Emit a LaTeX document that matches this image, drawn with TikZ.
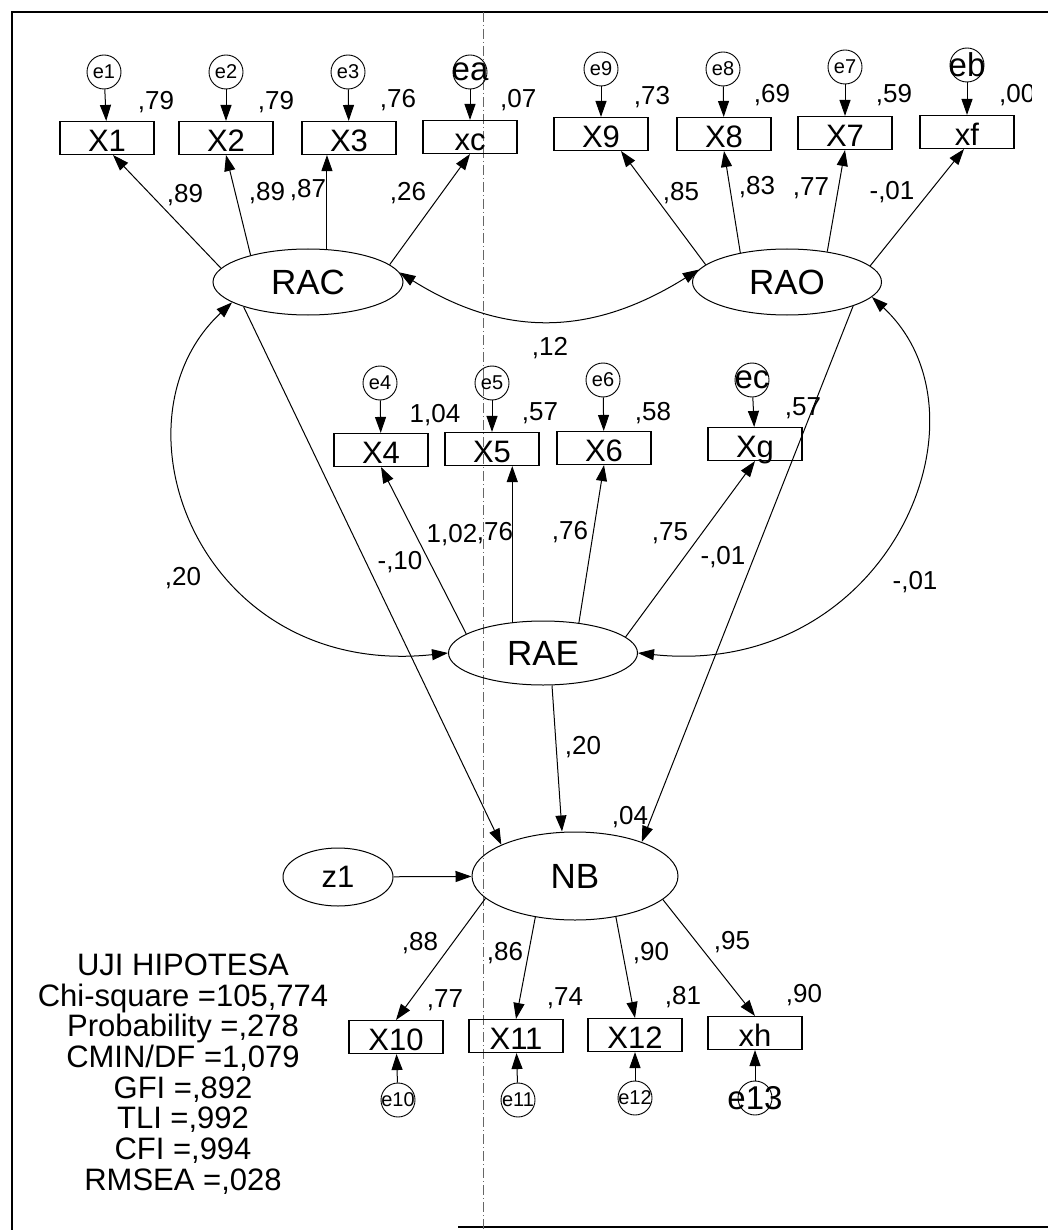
\documentclass[tikz,border=0pt]{standalone}
\usepackage{fontspec}
\setmainfont{Liberation Sans}
\usetikzlibrary{arrows.meta,shapes.geometric}

\begin{document}
\begin{tikzpicture}[
    x=1pt, y=1pt,
    obs/.style={draw, line width=1.1pt, minimum width=94pt, minimum height=33pt, inner sep=0pt,
                text height=27pt, text depth=0pt, font=\fontsize{31}{31}\selectfont},
    lat/.style={draw, ellipse, line width=1pt, inner sep=0pt, font=\fontsize{35}{35}\selectfont},
    err/.style={draw, circle, line width=0.9pt, minimum size=34pt, inner sep=0pt,
                font=\fontsize{20}{20}\selectfont},
    bigerr/.style={err, font=\fontsize{33}{33}\selectfont},
    val/.style={inner sep=0pt, font=\fontsize{26}{26}\selectfont},
    arr/.style={->, >={Triangle[length=16pt,width=11pt]}, line width=1pt},
    cov/.style={<->, >={Triangle[length=16pt,width=11pt]}, line width=1pt}
]
\useasboundingbox (0,0) rectangle (1048,-1230);

\draw[line width=2.5pt] (1048,-12) -- (12,-12) -- (12,-1230);
\draw[line width=2.5pt] (458,-1227) -- (1048,-1227);
\draw[black!60, line width=0.7pt, dash pattern=on 10pt off 3pt on 1pt off 3pt] (483,-12) -- (483,-1230);

\node[lat, minimum width=190pt, minimum height=66pt] (RAC) at (308,-282) {RAC};
\node[lat, minimum width=189pt, minimum height=66pt] (RAO) at (787,-282) {RAO};
\node[lat, minimum width=189pt, minimum height=64pt] (RAE) at (543,-653) {RAE};
\node[lat, minimum width=206pt, minimum height=88pt] (NB)  at (575,-876) {NB};
\node[lat, minimum width=110pt, minimum height=58pt, font=\fontsize{31}{31}\selectfont] (z1) at (338,-877) {z1};

\node[obs] (x1)  at (107,-138)  {X1};
\node[obs] (x2)  at (226,-138)  {X2};
\node[obs] (x3)  at (349,-138)  {X3};
\node[obs] (xc)  at (470,-137)  {xc};
\node[obs] (x9)  at (601,-134)  {X9};
\node[obs] (x8)  at (724,-134)  {X8};
\node[obs] (x7)  at (845,-133)  {X7};
\node[obs] (xf)  at (967,-132)  {xf};
\node[obs] (x4)  at (381,-450)  {X4};
\node[obs] (x5)  at (492,-449)  {X5};
\node[obs] (x6)  at (604,-448)  {X6};
\node[obs] (xg)  at (755,-444)  {Xg};
\node[obs] (x10) at (396,-1037) {X10};
\node[obs] (x11) at (516,-1036) {X11};
\node[obs] (x12) at (635,-1035) {X12};
\node[obs] (xh)  at (755,-1033) {xh};

\node[err]    (e1)  at (104,-72)   {\makebox[0pt]{e1}};
\node[err]    (e2)  at (226,-72)   {\makebox[0pt]{e2}};
\node[err]    (e3)  at (348,-72)   {\makebox[0pt]{e3}};
\node[bigerr] (ea)  at (470,-72)   {\makebox[0pt]{ea}};
\node[err]    (e9)  at (601,-69)   {\makebox[0pt]{e9}};
\node[err]    (e8)  at (723,-69)   {\makebox[0pt]{e8}};
\node[err]    (e7)  at (845,-67)   {\makebox[0pt]{e7}};
\node[bigerr] (eb)  at (967,-65)   {\makebox[0pt]{eb}};
\node[err]    (e4)  at (380,-383)  {\makebox[0pt]{e4}};
\node[err]    (e5)  at (492,-383)  {\makebox[0pt]{e5}};
\node[err]    (e6)  at (603,-380)  {\makebox[0pt]{e6}};
\node[bigerr] (ec)  at (752,-380)  {\makebox[0pt]{ec}};
\node[err]    (e10) at (398,-1100) {\makebox[0pt]{e10}};
\node[err]    (e11) at (518,-1100) {\makebox[0pt]{e11}};
\node[err]    (e12) at (635,-1098) {\makebox[0pt]{e12}};
\node[bigerr] (e13) at (755,-1098) {\makebox[0pt]{e13}};

\node[val] (r1)  at (156,-102)  {,79};
\node[val] (r2)  at (276,-102)  {,79};
\node[val] (r3)  at (398,-100)  {,76};
\node[val, anchor=west] (ra) at (500,-100) {,07};
\node[val] (r9)  at (652,-97)   {,73};
\node[val] (r8)  at (772,-95)   {,69};
\node[val] (r7)  at (894,-95)   {,59};
\begin{scope}
\clip (990,-70) rectangle (1031,-120);
\node[val, anchor=west] (rb) at (999,-95) {,00};
\end{scope}
\node[val] (r4)  at (435,-415)  {1,04};
\node[val] (r5)  at (540,-413)  {,57};
\node[val] (r6)  at (653,-413)  {,58};
\node[val] (rc)  at (803,-408)  {,57};
\node[val] (r10) at (445,-1000) {,77};
\node[val] (r11) at (565,-998)  {,74};
\node[val] (r12) at (683,-997)  {,81};
\node[val] (r13) at (804,-995)  {,90};

\node[val] (l1)  at (185,-195)  {,89};
\node[val] (l2)  at (267,-193)  {,89};
\node[val] (l3)  at (308,-190)  {,87};
\node[val] (la)  at (408,-193)  {,26};
\node[val] (l9)  at (681,-193)  {,85};
\node[val] (l8)  at (757,-187)  {,83};
\node[val] (l7)  at (811,-188)  {,77};
\node[val] (lb)  at (892,-192)  {-,01};
\node[val] (l4)  at (452,-535)  {1,02};
\node[val] (l5)  at (495,-533)  {,76};
\node[val] (l6)  at (570,-532)  {,76};
\node[val] (lc)  at (670,-533)  {,75};
\node[val] (l10) at (420,-943)  {,88};
\node[val] (l11) at (505,-953)  {,86};
\node[val] (l12) at (651,-953)  {,90};
\node[val] (l13) at (732,-942)  {,95};
\node[val] (p1)  at (400,-562)  {-,10};
\node[val] (p2)  at (723,-557)  {-,01};
\node[val] (p3)  at (583,-747)  {,20};
\node[val] (rnb) at (630,-817)  {,04};
\node[val] (c1)  at (550,-348)  {,12};
\node[val] (c2)  at (183,-578)  {,20};
\node[val] (c3)  at (915,-582)  {-,01};

\node[align=center, font=\fontsize{31}{30.7}\selectfont] (fit) at (183,-1074)
  {UJI HIPOTESA\\Chi-square =105,774\\Probability =,278\\CMIN/DF =1,079\\GFI =,892\\TLI =,992\\CFI =,994\\RMSEA =,028};

\draw[arr] (e1)  -- (x1);
\draw[arr] (e2)  -- (x2);
\draw[arr] (e3)  -- (x3);
\draw[arr] (ea)  -- (xc);
\draw[arr] (e9)  -- (x9);
\draw[arr] (e8)  -- (x8);
\draw[arr] (e7)  -- (x7);
\draw[arr] (eb)  -- (xf);
\draw[arr] (e4)  -- (x4);
\draw[arr] (e5)  -- (x5);
\draw[arr] (e6)  -- (x6);
\draw[arr] (ec)  -- (xg);
\draw[arr] (e10) -- (x10);
\draw[arr] (e11) -- (x11);
\draw[arr] (e12) -- (x12);
\draw[arr] (e13) -- (xh);

\draw[arr] (RAC.171) -- ([xshift=6pt]x1.south);
\draw[arr] (RAC.155) -- (x2.south);
\draw[arr] (RAC.60)  -- (RAC.60 |- x3.south);
\draw[arr] (RAC.12)  -- (xc.south);
\draw[arr] (RAO.168) -- ([xshift=20pt]x9.south);
\draw[arr] (RAO.148) -- (x8.south);
\draw[arr] (RAO.37)  -- (x7.south);
\draw[arr] (RAO.11)  -- ([xshift=-3pt]xf.south);
\draw[arr] (RAE.166) -- (x4.south);
\draw[arr] (RAE.135) -- (RAE.135 |- x5.south);
\draw[arr] (RAE.40)  -- (x6.south);
\draw[arr] (RAE.11)  -- (xg.south);
\draw[arr] (NB.194)  -- (x10.north);
\draw[arr] (NB.226)  -- (x11.north);
\draw[arr] (NB.315)  -- (x12.north);
\draw[arr] (NB.345)  -- (xh.north);

\draw[arr] (RAC.201) -- (NB.157);
\draw[arr] (RAO.340) -- (NB.27);
\draw[arr] ([xshift=9pt]RAE.south) -- ([xshift=-13pt]NB.north);
\draw[arr] (z1) -- (NB);

\draw[cov] (RAC.6)   .. controls +(-32:125) and +(-148:125) .. (RAO.172);
\draw[cov] (RAC.195) .. controls +(223:175) and +(186:250) .. (RAE.180);
\draw[cov] (RAO.350) .. controls +(317:175) and +(-6:250) .. (RAE.0);
\end{tikzpicture}
\end{document}
